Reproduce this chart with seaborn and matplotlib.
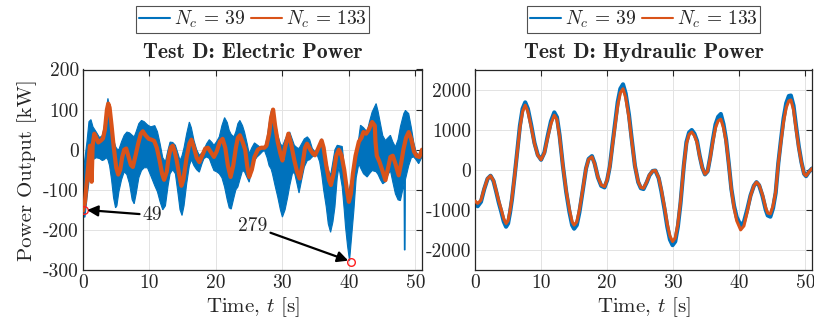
import numpy as np
import pandas as pd
import matplotlib
matplotlib.use("Agg")
import matplotlib.pyplot as plt
from matplotlib.lines import Line2D
import seaborn as sns

# ---------------- data ----------------
# Left panel: electric power [kW]; N_c = 39 is a dense oscillating band, kept as its envelope
elec_t_39 = [0.0, 0.3, 0.6, 0.9, 1.2, 1.5, 2.0, 2.5, 2.9, 3.2, 3.5, 3.75, 4.0, 4.3, 4.6, 4.9, 5.1,
             5.4, 5.8, 6.2, 6.6, 7.0, 7.4, 7.7, 8.0, 8.4, 8.8, 9.2, 9.7, 10.2, 10.8, 11.2, 11.6,
             12.0, 12.4, 12.8, 13.1, 13.5, 13.9, 14.3, 14.6, 14.9, 15.2, 15.6, 16.0, 16.3, 16.7,
             17.1, 17.5, 17.9, 18.2, 18.6, 19.0, 19.4, 19.7, 20.1, 20.5, 20.9, 21.3, 21.7, 22.0,
             22.3, 22.7, 23.0, 23.3, 23.6, 24.0, 24.3, 24.7, 25.0, 25.4, 25.8, 26.2, 26.6, 27.0,
             27.3, 27.7, 28.0, 28.3, 28.5, 28.9, 29.3, 29.7, 30.0, 30.4, 30.8, 31.1, 31.5, 31.8,
             32.2, 32.5, 32.9, 33.3, 33.75, 34.1, 34.5, 34.9, 35.25, 35.6, 35.9, 36.2, 36.6, 36.9,
             37.25, 37.6, 37.9, 38.25, 38.5, 39.0, 39.3, 39.5, 39.8, 40.1, 40.5, 40.75, 41.1, 41.5,
             41.75, 42.2, 42.75, 43.1, 43.5, 44.1, 44.4, 44.75, 45.1, 45.5, 45.9, 46.25, 46.6,
             47.0, 47.4, 47.75, 48.1, 48.3, 48.35, 48.45, 48.5, 49.0, 49.4, 49.75, 50.1, 50.5, 51.0]
elec_39_upper = [-60, -20, 20, 70, 75, 57, 44, 30, 35, 57, 100, 128, 105, 60, 25, 8, 2,
                 0, 20, 36, 44, 42, 36, 32, 45, 65, 73, 70, 62, 57, 60, 45, 15,
                 -20, -30, 0, 19, 18, 11, -10, -27, -15, 5, 40, 69, 55, 23,
                 0, -14, -8, 0, 15, 25, 18, 11, 20, 32, 60, 80, 68, 48,
                 38, 32, 45, 65, 73, 60, 44, 15, -10, 5, 17, 12, 7, 4,
                 3, 30, 65, 95, 103, 70, 36, 15, 8, 25, 40, 44, 25, 11,
                 5, 3, 15, 27, 32, 25, 3, -5, -6, 15, 27, 5, -27, -50,
                 -64, -30, 0, 11, 10, 8, -40, -80, -110, -95, -68, -40, -5, 30,
                 61, 55, 44, 70, 94, 115, 95, 65, 35, 23, 30, 36, 20,
                 7, 25, 57, 80, 92, 92, 96, 98, 90, 55, 19, -5, -14, 0]
elec_39_lower = [-168, -168, -120, -80, -40, -25, -20, -22, -27, -25, -20, -25, -40, -75, -120, -145, -140,
                 -105, -75, -55, -62, -85, -125, -135, -110, -70, -52, -45, -45, -65, -90, -105, -130,
                 -150, -140, -90, -60, -50, -60, -110, -150, -164, -140, -85, -40, -25, -40,
                 -50, -56, -35, -22, -18, -22, -40, -52, -55, -60, -70, -93, -125, -145,
                 -148, -120, -100, -93, -75, -52, -55, -70, -81, -50, -27, -18, -12, -5,
                 -2, -20, -40, -48, -60, -90, -118, -150, -168, -150, -118, -90, -60, -56,
                 -85, -108, -75, -43, -27, -25, -18, -14, -14, -30, -60, -100, -143, -185,
                 -206, -180, -143, -70, -43, -93, -150, -193, -240, -277, -200, -152, -70, -35,
                 -45, -60, -68, -60, -52, -55, -62, -75, -85, -80, -62, -52, -80,
                 -110, -125, -127, -100, -85, -250, -250, -75, -40, -20, -18, -25, -35, -18]
elec_t_133 = [0, 0.3, 0.6, 0.85, 1.05, 1.2, 1.3, 1.45, 1.7, 2.0, 2.3, 2.7, 3.0, 3.3, 3.6, 3.8, 4.0,
              4.3, 4.6, 5.0, 5.3, 5.6, 5.9, 6.2, 6.5, 6.9, 7.2, 7.5, 7.9, 8.3, 8.7, 9.0, 9.4, 9.9,
              10.3, 10.7, 11.1, 11.5, 11.9, 12.2, 12.6, 12.9, 13.2, 13.5, 13.8, 14.1, 14.5, 14.8,
              15.1, 15.6, 16.0, 16.3, 16.7, 17.1, 17.5, 18.0, 18.4, 18.8, 19.2, 19.7, 20.1, 20.6,
              21.0, 21.4, 21.8, 22.2, 22.6, 23.0, 23.3, 23.6, 24.0, 24.4, 24.7, 25.0, 25.4, 25.8,
              26.3, 26.8, 27.3, 27.6, 28.0, 28.3, 28.6, 28.9, 29.3, 29.7, 30.0, 30.4, 30.9, 31.3,
              31.8, 32.2, 32.6, 33.0, 33.4, 33.7, 34.2, 34.6, 34.9, 35.3, 35.9, 36.2, 36.6, 37.0,
              37.3, 37.7, 38.1, 38.5, 38.9, 39.3, 39.7, 40.0, 40.3, 40.6, 41.0, 41.5, 41.9, 42.2,
              42.6, 43.0, 43.5, 43.9, 44.0, 44.2, 44.6, 45.0, 45.5, 45.9, 46.25, 46.6, 47.0, 47.5,
              47.9, 48.2, 48.6, 49.0, 49.4, 49.8, 50.2, 50.6, 51.0]
elec_133 = [-152, -130, -75, -30, 10, -30, -80, 10, 40, 30, 18, 23, 28, 50, 100, 115, 105,
            60, 10, -45, -62, -50, -18, 0, 3, -20, -38, -43, -15, 15, 40, 46, 36, 27,
            25, 22, 5, -25, -60, -75, -55, -18, 5, 10, -5, -27, -65, -90,
            -75, -18, 15, 25, 5, -20, -31, -12, 3, 5, -5, -18, -5, 20,
            27, 5, -40, -68, -40, 5, 30, 36, 20, 0, -40, -68, -50, -18,
            0, 5, 5, 10, 40, 80, 100, 60, 19, -10, -27, 5, 40, 15,
            -27, -55, -72, -40, 5, 15, 0, -10, -14, 0, 23, 5, -40, -75,
            -88, -60, -15, 0, -15, -50, -100, -130, -110, -60, -15, 20, 30, 44,
            40, 50, 69, 60, 20, -15, -30, -50, -76, -45, -18, -15, -35, -64,
            -30, 0, 30, 44, 25, -5, -16, -18, 0]
# annotated minima
peak_t = [0.2, 40.3]
peak_v = [-150, -279]
peak_labels = ["49", "279"]

# Right panel: hydraulic power [kW]
hyd_t = [0, 0.4, 0.9, 1.4, 1.9, 2.35, 2.8, 3.2, 3.6, 4.0, 4.35, 4.7, 5.0, 5.3, 5.6, 6.0, 6.4, 6.8,
         7.2, 7.6, 8.0, 8.5, 9.0, 9.5, 10.0, 10.5, 11.0, 11.5, 12.0, 12.4, 12.8, 13.3, 13.8, 14.3,
         14.7, 15.0, 15.4, 15.8, 16.3, 16.8, 17.2, 17.7, 18.1, 18.6, 19.1, 19.6, 20.0, 20.4, 20.8,
         21.2, 21.6, 22.0, 22.4, 22.8, 23.3, 23.7, 24.2, 24.7, 25.1, 25.5, 26.0, 26.4, 26.9, 27.3,
         27.8, 28.2, 28.7, 29.1, 29.5, 29.9, 30.3, 30.7, 31.1, 31.6, 32.0, 32.4, 32.8, 33.2, 33.6,
         34.0, 34.4, 34.8, 35.2, 35.6, 36.0, 36.4, 36.8, 37.2, 37.6, 38.0, 38.4, 38.8, 39.2, 39.6,
         40.2, 40.7, 41.2, 41.7, 42.2, 42.6, 43.0, 43.5, 44.0, 44.3, 44.7, 45.1, 45.5, 45.9, 46.3,
         46.7, 47.1, 47.5, 47.8, 48.2, 48.6, 49.0, 49.4, 49.8, 50.1, 50.5, 51.0]
hyd_133 = [-780, -840, -760, -470, -220, -150, -270, -520, -780, -1010, -1220, -1340, -1270, -1020,
           -700, -150, 450, 1050, 1450, 1610, 1450, 1070, 650, 360, 250, 420, 800, 1150, 1360,
           1250, 820, 100, -520, -1000, -1300, -1380, -1300, -1000, -500, 30, 260, 320, 150, -180,
           -380, -420, -250, 80, 600, 1100, 1600, 1920, 2020, 1800, 1300, 750, 100, -300, -440,
           -460, -300, -130, -30, -20, -200, -500, -950, -1350, -1650, -1790, -1700, -1350, -800,
           100, 650, 880, 940, 850, 680, 330, 50, -110, -40, 300, 700, 1050, 1220, 1260, 1050,
           700, 150, -500, -950, -1270, -1500, -1400, -1050, -650, -400, -310, -380, -620, -950,
           -1080, -1100, -900, -550, 150, 700, 1200, 1550, 1720, 1740, 1500, 1000, 550, 180,
           -100, -150, -60, 30]
hyd_39 = [-800, -910, -800, -480, -225, -150, -280, -540, -820, -1060, -1290, -1420, -1340, -1070,
          -730, -150, 470, 1100, 1520, 1680, 1520, 1120, 670, 370, 250, 430, 840, 1210, 1430,
          1310, 860, 100, -550, -1060, -1380, -1470, -1380, -1060, -520, 30, 270, 340, 160, -190,
          -400, -440, -260, 80, 630, 1160, 1690, 2020, 2130, 1900, 1370, 790, 100, -310, -460,
          -480, -310, -140, -30, -20, -210, -530, -1000, -1420, -1740, -1880, -1790, -1420, -840,
          100, 690, 930, 990, 900, 720, 350, 50, -115, -40, 320, 750, 1130, 1320, 1390, 1140,
          750, 160, -480, -900, -1180, -1390, -1300, -990, -640, -400, -310, -390, -650, -1000,
          -1140, -1170, -960, -580, 160, 740, 1280, 1660, 1840, 1850, 1600, 1070, 580, 190,
          -100, -160, -60, 30]

x_ticks = [0, 10, 20, 30, 40, 50]
elec_yticks = [-300, -200, -100, 0, 100, 200]
hyd_yticks = [-2000, -1000, 0, 1000, 2000]
series_labels = [r"$N_c\,=\,39$", r"$N_c\,=\,133$"]
titles = ["Test D: Electric Power", "Test D: Hydraulic Power"]

# ---------------- style ----------------
sns.set_style("white")
plt.rcParams.update({
    "font.family": ["cmr10", "DejaVu Serif"],
    "mathtext.fontset": "cm",
    "axes.unicode_minus": False,
    "axes.formatter.use_mathtext": False,
})
BLUE = "#0072BD"
ORANGE = "#D95319"
DARK = "#262626"

fig = plt.figure(figsize=(8.14, 3.28), dpi=100)
axL = fig.add_axes([83 / 814, 58 / 328, 339 / 814, 200.5 / 328])
axR = fig.add_axes([475 / 814, 58 / 328, 337 / 814, 200.5 / 328])

# Left: electric power -- band polygon: upper edge forward, lower edge back
band_x = list(elec_t_39) + list(elec_t_39)[::-1]
band_y = list(elec_39_upper) + list(elec_39_lower)[::-1]
axL.fill(band_x, band_y, color=BLUE, lw=0.8, edgecolor=BLUE, zorder=2)
df133 = pd.DataFrame({"t": elec_t_133, "p": elec_133})
sns.lineplot(data=df133, x="t", y="p", ax=axL, color=ORANGE, lw=3.0, estimator=None,
             sort=False, zorder=3)
axL.plot(peak_t, peak_v, ls="none", marker="o", ms=5.5, mfc="none", mec="#FF2020",
         mew=1.0, zorder=5)
axL.annotate(peak_labels[0], xy=(peak_t[0], peak_v[0]), xytext=(9.0, -163),
             ha="left", va="center", fontsize=14, color=DARK,
             arrowprops=dict(arrowstyle="-|>", color="black", lw=1.6, mutation_scale=16,
                             shrinkA=0, shrinkB=2), zorder=6)
axL.annotate(peak_labels[1], xy=(peak_t[1], peak_v[1]), xytext=(25.5, -191),
             ha="center", va="center", fontsize=14, color=DARK,
             arrowprops=dict(arrowstyle="-|>", color="black", lw=1.6, mutation_scale=16,
                             shrinkA=0, shrinkB=2), zorder=6)
axL.set_ylim(-300, 200)
axL.set_yticks(elec_yticks)
axL.set_ylabel("Power Output [kW]", fontsize=15, color=DARK, labelpad=4)

# Right: hydraulic power
dfh = pd.DataFrame({"t": hyd_t, "p39": hyd_39, "p133": hyd_133})
sns.lineplot(data=dfh, x="t", y="p39", ax=axR, color=BLUE, lw=3.0, estimator=None,
             sort=False, zorder=2)
sns.lineplot(data=dfh, x="t", y="p133", ax=axR, color=ORANGE, lw=2.2, estimator=None,
             sort=False, zorder=3)
axR.set_ylim(-2500, 2500)
axR.set_yticks(hyd_yticks)
axR.set_ylabel("")

for ax, title in zip([axL, axR], titles):
    ax.set_xlim(0, 51)
    ax.set_xticks(x_ticks)
    ax.set_xlabel(r"Time, $t$ [s]", fontsize=15, color=DARK, labelpad=2)
    ax.set_title(title, fontsize=15.5, fontfamily="cmb10", color=DARK, pad=8)
    ax.grid(True, color="#e3e3e3", lw=0.7, zorder=0)
    ax.set_axisbelow(True)
    for s in ax.spines.values():
        s.set_visible(True)
        s.set_color(DARK)
        s.set_linewidth(0.9)
    ax.tick_params(direction="in", length=4, width=0.8, colors=DARK, labelsize=14,
                   top=True, right=True, pad=3)
    handles = [Line2D([], [], color=BLUE, lw=1.5), Line2D([], [], color=ORANGE, lw=1.5)]
    leg = ax.legend(handles, series_labels, loc="center", bbox_to_anchor=(0.5, 1.25),
                    ncol=2, fontsize=14, frameon=True, fancybox=False, handlelength=1.6,
                    handletextpad=0.2, columnspacing=0.3, borderpad=0.15,
                    borderaxespad=0)
    leg.get_frame().set_edgecolor(DARK)
    leg.get_frame().set_linewidth(0.8)

fig.savefig("out.png", dpi=100)
